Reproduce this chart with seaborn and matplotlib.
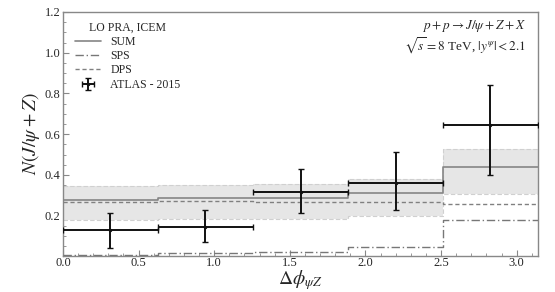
import matplotlib
matplotlib.use("Agg")
import matplotlib.pyplot as plt
from matplotlib.ticker import MultipleLocator
import numpy as np
import pandas as pd
import seaborn as sns

# bin edges in delta phi (5 bins from 0 to pi)
bin_edges = [0.0, 0.628, 1.257, 1.885, 2.513, 3.1416]

# LO PRA, ICEM predictions per bin
sum_vals = [0.278, 0.285, 0.287, 0.313, 0.440]
sps_vals = [0.009, 0.015, 0.022, 0.045, 0.180]
dps_vals = [0.269, 0.272, 0.267, 0.269, 0.260]
band_lo = [0.177, 0.184, 0.184, 0.201, 0.308]
band_hi = [0.347, 0.352, 0.355, 0.381, 0.528]

# ATLAS 2015 data
atlas_x = [0.314, 0.942, 1.571, 2.199, 2.827]
atlas_y = [0.128, 0.145, 0.318, 0.360, 0.646]
atlas_err_lo = [0.086, 0.073, 0.103, 0.131, 0.245]
atlas_err_hi = [0.087, 0.084, 0.111, 0.155, 0.196]


def steps(vals):
    # repeat last value so steps-post closes the last bin
    return pd.DataFrame({"x": bin_edges, "y": list(vals) + [vals[-1]]})


def main():
    sns.set_style("ticks")
    plt.rcParams["font.family"] = ["Liberation Serif", "DejaVu Serif"]
    plt.rcParams["mathtext.fontset"] = "stix"

    fig = plt.figure(figsize=(5.55, 2.92), dpi=100, facecolor="white")
    ax = fig.add_axes([0.1135, 0.123, 0.856, 0.836], facecolor="white")

    lo = steps(band_lo)
    hi = steps(band_hi)
    ax.fill_between(lo["x"], lo["y"], hi["y"], step="post",
                    color="#e6e6e6", lw=0, zorder=1)
    sns.lineplot(data=lo, x="x", y="y", drawstyle="steps-post", ax=ax,
                 color="#d0d0d0", lw=0.8, ls=(0, (4, 2)), zorder=2)
    sns.lineplot(data=hi, x="x", y="y", drawstyle="steps-post", ax=ax,
                 color="#d0d0d0", lw=0.8, ls=(0, (4, 2)), zorder=2)

    sns.lineplot(data=steps(sum_vals), x="x", y="y", drawstyle="steps-post",
                 ax=ax, color="#858585", lw=1.2, label="SUM", zorder=3)
    sns.lineplot(data=steps(sps_vals), x="x", y="y", drawstyle="steps-post",
                 ax=ax, color="#777777", lw=1.0, ls=(0, (6, 2, 1, 2)),
                 label="SPS", zorder=3)
    sns.lineplot(data=steps(dps_vals), x="x", y="y", drawstyle="steps-post",
                 ax=ax, color="#808080", lw=1.0, ls=(0, (3, 2)),
                 label="DPS", zorder=3)

    xerr = np.diff(bin_edges) / 2
    ax.errorbar(atlas_x, atlas_y, xerr=xerr, yerr=[atlas_err_lo, atlas_err_hi],
                fmt="o", ms=1.5, color="#111111", ecolor="#111111",
                elinewidth=1.4, capsize=2, capthick=1.0,
                label="ATLAS - 2015", zorder=4)

    ax.set_xlim(0, 3.1416)
    ax.set_ylim(0.002, 1.2)
    ax.set_yticks([0.2, 0.4, 0.6, 0.8, 1.0, 1.2])
    ax.set_xticks([0.0, 0.5, 1.0, 1.5, 2.0, 2.5, 3.0])
    ax.xaxis.set_minor_locator(MultipleLocator(0.1))
    ax.yaxis.set_minor_locator(MultipleLocator(0.05))
    ax.tick_params(which="both", direction="in", color="#888888",
                   labelsize=9, pad=2, top=False, right=False)
    ax.tick_params(axis="x", pad=1)
    ax.tick_params(which="major", length=4, width=0.8)
    ax.tick_params(which="minor", length=2, width=0.6)
    for s in ax.spines.values():
        s.set_visible(True)
        s.set_color("#888888")
        s.set_linewidth(1.0)

    ax.set_xlabel(r"$\Delta\phi_{\psi Z}$", fontsize=14, labelpad=-1)
    ax.set_ylabel(r"$N(J/\psi+Z)$", fontsize=14, labelpad=2)

    ax.text(0.975, 0.93, r"$p+p\rightarrow J/\psi+Z+X$", transform=ax.transAxes,
            ha="right", va="baseline", fontsize=9.5)
    ax.text(0.975, 0.84, r"$\sqrt{s}=8$ TeV, $|y^{\psi}|<2.1$",
            transform=ax.transAxes, ha="right", va="baseline", fontsize=9.5)

    leg = ax.legend(title="LO PRA, ICEM", loc="upper left",
                    bbox_to_anchor=(0.005, 1.0), frameon=False, fontsize=8.5,
                    title_fontsize=8.5, handlelength=2.2, labelspacing=0.2,
                    handletextpad=0.8, borderaxespad=0.4)
    leg._legend_box.align = "center"

    fig.savefig("out.png", dpi=100, facecolor="white")


if __name__ == "__main__":
    main()
